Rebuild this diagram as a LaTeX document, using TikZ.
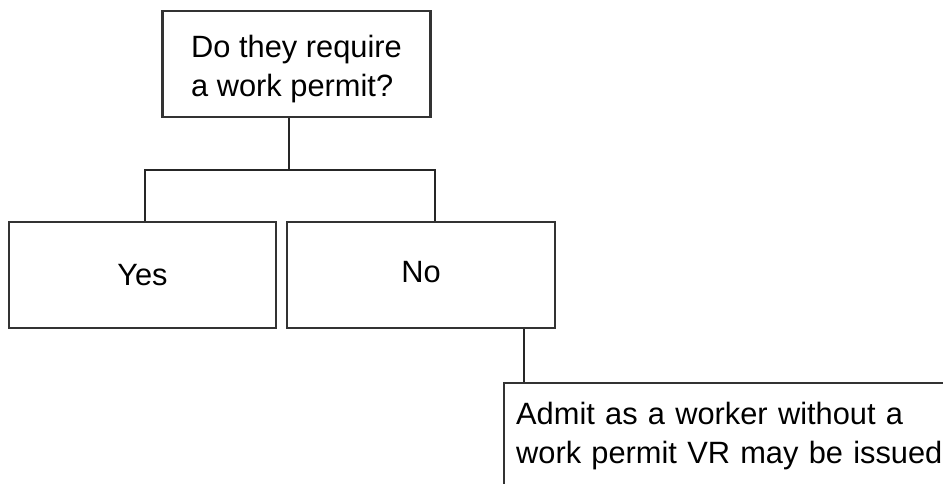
\documentclass[tikz,border=0pt]{standalone}
\usepackage{fontspec}
\setmainfont{Liberation Sans}
\usepackage{tikz}
\usetikzlibrary{positioning,calc}

\begin{document}
\begin{tikzpicture}[x=0.5pt, y=-0.5pt,
    every node/.style={font=\fontsize{15.4}{19.5}\selectfont},
    box/.style={draw=black!80, line width=1.2pt, fill=white, minimum height=53pt, align=center},
    link/.style={draw=black!85, line width=1pt}]
                    \useasboundingbox (0,0) rectangle (943,483);
                    \clip (0,0) rectangle (943,483);

                    % Question
                    \node[box, minimum width=134pt, align=left] (permit) at (296.5,64)
                        {\raisebox{-2.5pt}[\height][\depth]{Do they require}\\\raisebox{-2.5pt}[\height][\depth]{a work permit?}};

                    % Answers
                    \node[box, minimum width=133.5pt] (yes) at (142.5,275) {Yes};
                    \node[box, minimum width=134pt] (no) at (421,275) {\raisebox{1.5pt}[\height][\depth]{No}};

                    % Outcome
                    \node[box, anchor=north west, text width=218pt, inner xsep=6pt, align=left] (admit) at (503,382)
                        {Admit as a worker without a\\work permit VR may be issued};

                    % Connectors
                    \coordinate (split) at (289,170);
                    \coordinate (barL) at (145,170);
                    \coordinate (barR) at (435,170);
                    \coordinate (drop) at (524,355);
                    \draw[link] (permit.south -| split) -- (split);
                    \draw[link] (yes.north -| barL) -- (barL) -- (barR) -- (no.north -| barR);
                    \draw[link] (no.south -| drop) -- (admit.north -| drop);
                \end{tikzpicture}
\end{document}
